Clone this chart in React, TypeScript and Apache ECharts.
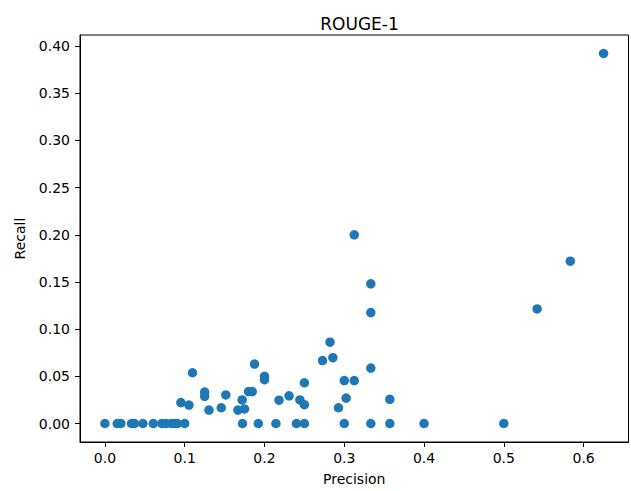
import React, { useEffect, useRef } from "react";
import * as echarts from "echarts";

const precision: number[] = [
  0, 0.0154, 0.02, 0.0333, 0.037, 0.0476, 0.0606, 0.0714, 0.0769, 0.0833, 0.0875, 0.0909, 0.1,
  0.1724, 0.1923, 0.2143, 0.24, 0.25, 0.3, 0.3333, 0.3571, 0.4, 0.5,
  0.0952, 0.1053, 0.1098, 0.125, 0.125, 0.1304, 0.1458, 0.1515, 0.1667, 0.172, 0.175, 0.18,
  0.1846, 0.1875, 0.2, 0.2, 0.2182, 0.2308, 0.2444, 0.25, 0.25, 0.2727, 0.2821, 0.2857,
  0.2927, 0.3, 0.3023, 0.3125, 0.3125, 0.3333, 0.3333, 0.3333, 0.3571, 0.5417, 0.5833, 0.625,
];
const recall: number[] = [
  0, 0, 0, 0, 0, 0, 0, 0, 0, 0, 0, 0, 0,
  0, 0, 0, 0, 0, 0, 0, 0, 0, 0,
  0.0222, 0.0196, 0.0538, 0.0333, 0.0288, 0.0142, 0.0167, 0.0303, 0.0142, 0.025, 0.0154, 0.0338,
  0.0338, 0.063, 0.05, 0.0465, 0.0247, 0.0294, 0.025, 0.02, 0.0432, 0.0667, 0.0862, 0.0698,
  0.0167, 0.0455, 0.027, 0.0455, 0.2, 0.1481, 0.1176, 0.0588, 0.0256, 0.1215, 0.1721, 0.3922,
];
const xTicks: number[] = [0, 0.1, 0.2, 0.3, 0.4, 0.5, 0.6];
const yTicks: number[] = [0, 0.05, 0.1, 0.15, 0.2, 0.25, 0.3, 0.35, 0.4];

const FONT = "DejaVu Sans";

export default function App() {
  const ref = useRef<HTMLDivElement>(null);
  useEffect(() => {
    if (!ref.current) return;
    const chart = echarts.init(ref.current, undefined, { renderer: "svg" });
    const data = precision.map((p, i) => [p, recall[i]]);
    chart.setOption({
      animation: false,
      backgroundColor: "#fff",
      title: {
        text: "ROUGE-1",
        left: 354.5,
        top: 10,
        textAlign: "center",
        textStyle: { fontFamily: FONT, fontSize: 17, fontWeight: "normal", color: "#000" },
      },
      grid: {
        left: 80,
        right: 2.5,
        top: 35,
        bottom: 46.7,
        show: true,
        borderColor: "#000",
        borderWidth: 1,
        backgroundColor: "transparent",
      },
      xAxis: {
        type: "value",
        min: -0.03125,
        max: 0.65625,
        name: "Precision",
        nameLocation: "middle",
        nameGap: 30,
        nameTextStyle: { fontFamily: FONT, fontSize: 14, color: "#000" },
        splitLine: { show: false },
        axisLine: { show: true, onZero: false, lineStyle: { color: "#000", width: 1 } },
        axisTick: { show: true, length: 5, lineStyle: { color: "#000" }, customValues: xTicks },
        axisLabel: {
          fontFamily: FONT,
          fontSize: 14,
          color: "#000",
          margin: 9,
          customValues: xTicks,
          formatter: (v: number) => v.toFixed(1),
        },
      },
      yAxis: {
        type: "value",
        min: -0.0196,
        max: 0.4118,
        name: "Recall",
        nameLocation: "middle",
        nameGap: 53,
        nameTextStyle: { fontFamily: FONT, fontSize: 14, color: "#000" },
        splitLine: { show: false },
        axisLine: { show: true, onZero: false, lineStyle: { color: "#000", width: 1 } },
        axisTick: { show: true, length: 5, lineStyle: { color: "#000" }, customValues: yTicks },
        axisLabel: {
          fontFamily: FONT,
          fontSize: 14,
          color: "#000",
          margin: 10,
          customValues: yTicks,
          formatter: (v: number) => v.toFixed(2),
        },
      },
      series: [
        {
          type: "scatter",
          data,
          symbol: "circle",
          symbolSize: 9.5,
          itemStyle: { color: "#1f77b4", opacity: 1 },
        },
      ],
    });
    return () => chart.dispose();
  }, []);
  return (
    <div
      ref={ref}
      style={{ position: "fixed", left: 0, top: 0, width: 631, height: 491 }}
    />
  );
}
